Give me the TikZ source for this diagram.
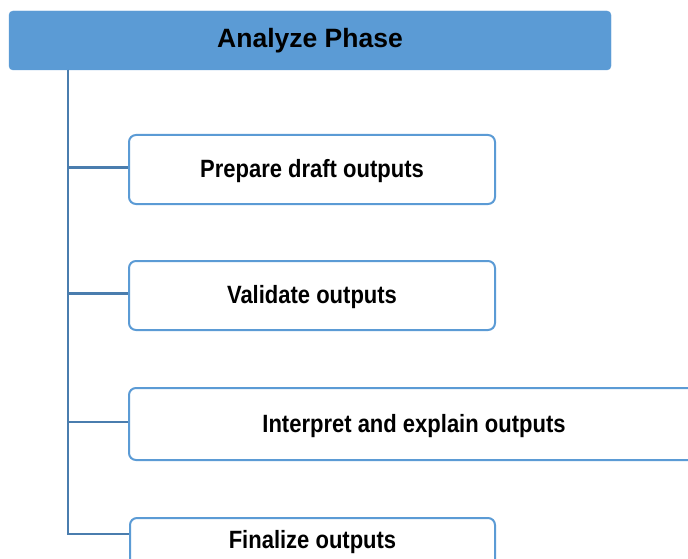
\documentclass[tikz,border=0pt]{standalone}
\usepackage{fontspec}
\setmainfont{Liberation Sans}
\newfontfamily\narrowfont{Liberation Sans}[FakeStretch=0.88]
\usetikzlibrary{calc, positioning}
\definecolor{phaseblue}{HTML}{5B9BD5}
\definecolor{trunkblue}{HTML}{4A7DAE}

\begin{document}
\begin{tikzpicture}[x=1pt, y=-1pt]
    	\tikzstyle{phasebox}=[draw=phaseblue, fill=phaseblue, rounded corners=4pt, minimum width=602pt, minimum height=59pt, inner sep=0pt, text height=18pt, text depth=3pt, font=\fontsize{26.5}{30}\selectfont\bfseries]
    	\tikzstyle{steptext}=[text height=18pt, text depth=2pt, font=\narrowfont\fontsize{25}{30}\selectfont\bfseries]
    	\tikzstyle{itembox}=[steptext, draw=phaseblue, line width=2pt, fill=white, rounded corners=7pt, minimum height=69pt, inner sep=0pt]
    	\tikzstyle{branch}=[draw=trunkblue, line width=2.4pt]
    	
    	\useasboundingbox (0,0) rectangle (688,559);
    	\clip (0,0) rectangle (688,559);
    	
    	% Phase
    	\node at (310, 40.5) [phasebox] (phase) {Analyze Phase};
    	\coordinate (trunk) at (68, 70);
    	
    	% Steps
    	\node at (312, 169.5) [itembox, minimum width=366pt] (prepare) {Prepare draft outputs};
    	\node at (312, 295.5) [itembox, minimum width=366pt] (validate) {Validate outputs};
    	\node at (414, 424) [itembox, minimum width=570pt, minimum height=72pt] (interpret) {Interpret and explain outputs};
    	\node at (129, 517) [itembox, anchor=north west, minimum width=365pt] (finalize) {};
    	\node at ($(finalize.north)+(0,23)$) [steptext] (finalize_text) {Finalize outputs};
    	
    	% Trunk -> Steps
    	\foreach \s in {prepare, validate, interpret}
    		\draw [branch] (trunk) |- ([yshift=2pt]\s.west);
    	\draw [branch] (trunk) |- ($(finalize.north west)+(0,17)$);
\end{tikzpicture}
\end{document}
